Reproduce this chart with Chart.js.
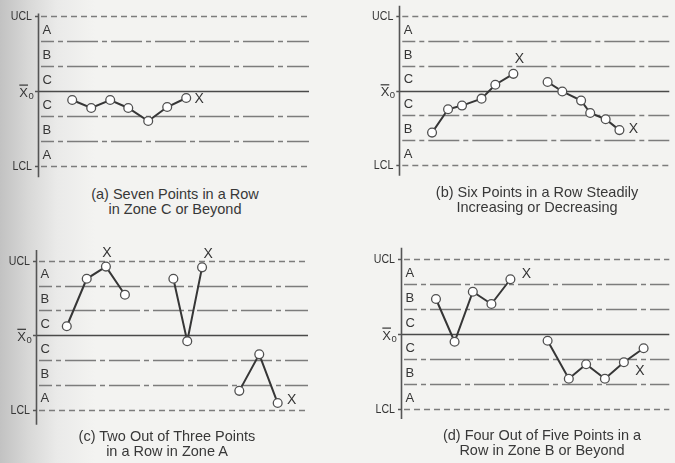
<!DOCTYPE html>
<html>
<head>
<meta charset="utf-8">
<script src="https://cdn.jsdelivr.net/npm/chart.js@4/dist/chart.umd.min.js"></script>
<style>
  html, body { margin: 0; padding: 0; }
  body {
    width: 675px; height: 463px; overflow: hidden; position: relative;
    background: #f3f3f1;
    font-family: "Liberation Sans", Arial, Helvetica, sans-serif;
  }
  #gutter {
    position: absolute; left: 0; top: 0; width: 95px; height: 463px;
    background: linear-gradient(to right, #c2c2c2 0%, #d8d8d7 30%, #eaeae9 60%, #f3f3f1 100%);
  }
  canvas { position: absolute; }
  .cap {
    position: absolute; width: 340px; text-align: center;
    font-size: 14.5px; line-height: 15px; color: #383838;
  }
</style>
</head>
<body>
<div id="gutter"></div>
<canvas id="chartA"></canvas>
<canvas id="chartB"></canvas>
<canvas id="chartC"></canvas>
<canvas id="chartD"></canvas>
<div class="cap" id="capA"></div>
<div class="cap" id="capB"></div>
<div class="cap" id="capC"></div>
<div class="cap" id="capD"></div>

<script>
// ---- Zone structure (in sigma units from the centre line) ----
const sigmaLevels = [3, 2, 1, 0, -1, -2, -3];
const zoneLetters = ['A', 'B', 'C', 'C', 'B', 'A'];   // top to bottom
const upperLimitLabel = 'UCL';
const lowerLimitLabel = 'LCL';
const centreSymbol = 'X';
const centreSubscript = '0';
const flagText = 'X';

// ---- (a) Seven points in a row in zone C or beyond ----
const aRunX = [1.8, 2.8, 3.8, 4.75, 5.8, 6.8, 7.8];
const aRunY = [-0.36, -0.68, -0.36, -0.68, -1.2, -0.64, -0.28];
const aFlags = [{ series: 0, point: 6 }];
const aCaption = ['(a) Seven Points in a Row', 'in Zone C or Beyond'];

// ---- (b) Six points in a row steadily increasing or decreasing ----
const bRiseX = [1.76, 2.62, 3.37, 4.42, 5.16, 6.13];
const bRiseY = [-1.69, -0.75, -0.6, -0.32, 0.24, 0.68];
const bFallX = [7.97, 8.76, 9.77, 10.26, 11.09, 11.83];
const bFallY = [0.35, -0.03, -0.4, -0.9, -1.15, -1.59];
const bFlags = [{ series: 0, point: 5 }, { series: 1, point: 5 }];
const bCaption = ['(b) Six Points in a Row Steadily', 'Increasing or Decreasing'];

// ---- (c) Two out of three points in a row in zone A ----
const cFirstX = [1.62, 2.67, 3.68, 4.68];
const cFirstY = [0.36, 2.27, 2.76, 1.63];
const cSecondX = [7.23, 7.96, 8.74];
const cSecondY = [2.27, -0.24, 2.73];
const cThirdX = [10.7, 11.75, 12.72];
const cThirdY = [-2.24, -0.77, -2.73];
const cFlags = [{ series: 0, point: 2 }, { series: 1, point: 2 }, { series: 2, point: 2 }];
const cCaption = ['(c) Two Out of Three Points', 'in a Row in Zone A'];

// ---- (d) Four out of five points in a row in zone B or beyond ----
const dFirstX = [1.88, 2.88, 3.86, 4.86, 5.88];
const dFirstY = [1.4, -0.31, 1.69, 1.2, 2.19];
const dSecondX = [7.88, 9.02, 9.95, 10.96, 11.98, 13.04];
const dSecondY = [-0.27, -1.79, -1.21, -1.79, -1.13, -0.57];
const dFlags = [{ series: 0, point: 4 }, { series: 1, point: 4 }];
const dCaption = ['(d) Four Out of Five Points in a', 'Row in Zone B or Beyond'];

// ---- Layout and styling ----
const PX_PER_SAMPLE = 19;
const panels = [
  { id: 'chartA', cap: 'capA', caption: aCaption, flags: aFlags,
    series: [[aRunX, aRunY]],
    flagOffsets: [[13, 1]],
    canvas: { left: 0, top: 0, w: 337, h: 185 },
    axisX: 38, rightX: 309, centreY: 91, sigmaPx: 25, yMax: 3.1, yMin: -3.45,
    capPos: { cx: 175, top: 186.5 } },
  { id: 'chartB', cap: 'capB', caption: bCaption, flags: bFlags,
    series: [[bRiseX, bRiseY], [bFallX, bFallY]],
    flagOffsets: [[6, -15], [14, -1]],
    canvas: { left: 337, top: 0, w: 338, h: 185 },
    axisX: 399.3, rightX: 675, centreY: 90.3, sigmaPx: 24.9, yMax: 3.43, yMin: -3.43,
    capPos: { cx: 537, top: 184.5 } },
  { id: 'chartC', cap: 'capC', caption: cCaption, flags: cFlags,
    series: [[cFirstX, cFirstY], [cSecondX, cSecondY], [cThirdX, cThirdY]],
    flagOffsets: [[1, -13], [6, -13], [14, -3]],
    canvas: { left: 0, top: 232, w: 337, h: 200 },
    axisX: 36, rightX: 308, centreY: 335.2, sigmaPx: 24.85, yMax: 3.43, yMin: -3.6,
    capPos: { cx: 167, top: 429 } },
  { id: 'chartD', cap: 'capD', caption: dCaption, flags: dFlags,
    series: [[dFirstX, dFirstY], [dSecondX, dSecondY]],
    flagOffsets: [[16, -5], [16, 9]],
    canvas: { left: 337, top: 232, w: 338, h: 200 },
    axisX: 401, rightX: 675, centreY: 334, sigmaPx: 25, yMax: 3.45, yMin: -3.4,
    capPos: { cx: 542, top: 427.5 } }
];

const INK = '#363636';
const FONT = "'Liberation Sans', Arial, Helvetica, sans-serif";

// Zone lines, axis, limit labels, zone letters and flags
const controlChartPlugin = {
  id: 'controlChart',
  beforeDatasetsDraw(chart, args, opts) {
    const { ctx, chartArea, scales: { y } } = chart;
    const L = chartArea.left, R = chartArea.right;
    ctx.save();
    sigmaLevels.forEach(s => {
      const py = Math.round(y.getPixelForValue(s)) + 0.5;
      ctx.beginPath();
      if (Math.abs(s) === 3) {
        ctx.setLineDash([6, 4]); ctx.strokeStyle = '#7c7c7c'; ctx.lineWidth = 1.4;
        ctx.moveTo(L + 3, py);
      } else if (s === 0) {
        ctx.setLineDash([]); ctx.strokeStyle = '#4a4a4a'; ctx.lineWidth = 1.7;
        ctx.moveTo(L, py);
      } else {
        ctx.setLineDash([31, 4, 5, 4]); ctx.lineDashOffset = 18;
        ctx.strokeStyle = '#7c7c7c'; ctx.lineWidth = 1.4;
        ctx.moveTo(L + 3, py);
      }
      ctx.lineTo(R, py);
      ctx.stroke();
      ctx.lineDashOffset = 0;
    });
    // vertical axis with short ticks at the limits and centre
    ctx.setLineDash([]);
    ctx.strokeStyle = '#555555';
    ctx.lineWidth = 1.6;
    ctx.beginPath();
    ctx.moveTo(Math.round(L) + 0.5, chartArea.top);
    ctx.lineTo(Math.round(L) + 0.5, chartArea.bottom);
    [3, 0, -3].forEach(s => {
      const py = Math.round(y.getPixelForValue(s)) + 0.5;
      ctx.moveTo(L - 3, py);
      ctx.lineTo(L, py);
    });
    ctx.stroke();
    ctx.restore();
  },
  afterDatasetsDraw(chart, args, opts) {
    const { ctx, chartArea, scales: { y } } = chart;
    const L = chartArea.left;
    ctx.save();
    ctx.fillStyle = INK;
    ctx.textBaseline = 'middle';

    // limit labels (slightly condensed)
    ctx.font = '12.5px ' + FONT;
    ctx.textAlign = 'right';
    [[upperLimitLabel, 3], [lowerLimitLabel, -3]].forEach(([txt, s]) => {
      ctx.save();
      ctx.translate(L - 6, y.getPixelForValue(s) + 0.5);
      ctx.scale(0.85, 1);
      ctx.fillText(txt, 0, 0);
      ctx.restore();
    });

    // centre-line label: X with overbar and subscript 0
    const cy = y.getPixelForValue(0);
    ctx.font = '13px ' + FONT;
    ctx.textAlign = 'right';
    const xr = L - 10;
    ctx.fillText(centreSymbol, xr, cy + 2);
    const w = ctx.measureText(centreSymbol).width;
    ctx.fillRect(xr - w, cy - 6.5, w, 1.2);
    ctx.font = '9.5px ' + FONT;
    ctx.textAlign = 'left';
    ctx.fillText(centreSubscript, xr + 0.5, cy + 5);

    // zone letters
    ctx.font = '13px ' + FONT;
    ctx.textAlign = 'left';
    zoneLetters.forEach((letter, i) => {
      const top = y.getPixelForValue(sigmaLevels[i]);
      const bot = y.getPixelForValue(sigmaLevels[i + 1]);
      ctx.fillText(letter, L + 4.5, (top + bot) / 2 + 1.5);
    });

    // flags beside the points that trigger a rule
    ctx.font = '14px ' + FONT;
    ctx.textAlign = 'center';
    opts.flags.forEach((f, i) => {
      const el = chart.getDatasetMeta(f.series).data[f.point];
      const [dx, dy] = opts.flagOffsets[i];
      ctx.fillText(flagText, el.x + dx, el.y + dy);
    });
    ctx.restore();
  }
};

panels.forEach(p => {
  const cv = document.getElementById(p.id);
  cv.width = p.canvas.w; cv.height = p.canvas.h;
  cv.style.left = p.canvas.left + 'px';
  cv.style.top = p.canvas.top + 'px';
  cv.style.width = p.canvas.w + 'px';
  cv.style.height = p.canvas.h + 'px';

  const areaLeft = p.axisX - p.canvas.left;
  const areaRight = p.rightX - p.canvas.left;
  const areaTop = p.centreY - p.yMax * p.sigmaPx - p.canvas.top;
  const areaBottom = p.centreY - p.yMin * p.sigmaPx - p.canvas.top;

  const datasets = p.series.map(([xs, ys]) => ({
    data: xs.map((x, i) => ({ x, y: ys[i] })),
    borderColor: INK,
    borderWidth: 2,
    pointRadius: 4.4,
    pointBackgroundColor: '#ffffff',
    pointBorderColor: '#505050',
    pointBorderWidth: 1.3,
    tension: 0,
    clip: false
  }));

  new Chart(cv, {
    type: 'line',
    data: { datasets },
    options: {
      responsive: false,
      animation: false,
      devicePixelRatio: 1,
      events: [],
      layout: {
        padding: {
          left: areaLeft,
          right: p.canvas.w - areaRight,
          top: areaTop,
          bottom: p.canvas.h - areaBottom
        }
      },
      scales: {
        x: { type: 'linear', display: false, min: 0, max: (p.rightX - p.axisX) / PX_PER_SAMPLE },
        y: { type: 'linear', display: false, min: p.yMin, max: p.yMax }
      },
      plugins: {
        legend: { display: false },
        tooltip: { enabled: false },
        controlChart: { flags: p.flags, flagOffsets: p.flagOffsets }
      }
    },
    plugins: [controlChartPlugin]
  });

  const cap = document.getElementById(p.cap);
  cap.style.left = (p.capPos.cx - 170) + 'px';
  cap.style.top = p.capPos.top + 'px';
  cap.innerHTML = '';
  p.caption.forEach(line => {
    const d = document.createElement('div');
    d.textContent = line;
    cap.appendChild(d);
  });
});
</script>
</body>
</html>
